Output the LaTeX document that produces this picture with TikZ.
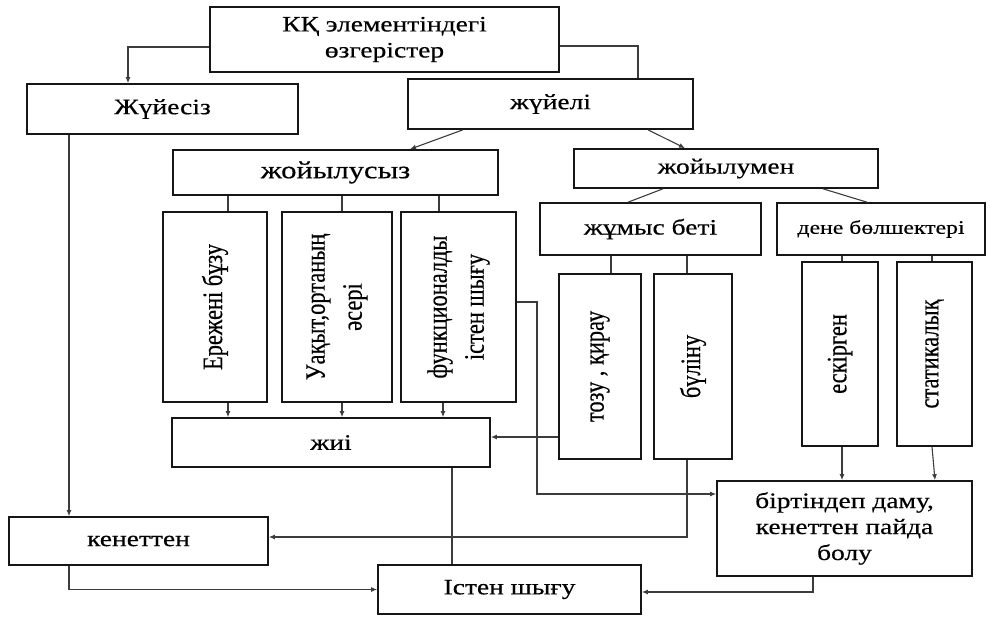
\documentclass[tikz,border=0pt]{standalone}
\usepackage{fontspec}
\setmainfont{Liberation Serif}[FakeStretch=1.25, FakeBold=0.4]
\newfontfamily\tikfont{Liberation Serif}[FakeStretch=0.8, FakeBold=0.4]
\usepackage{tikz}
\usetikzlibrary{arrows.meta, positioning, calc}
\definecolor{qara}{HTML}{161616}
\definecolor{syzyq}{HTML}{3C3C3C}
\tikzset{
  kutu/.style={rectangle, draw=qara, line width=1.6pt, fill=white,
    align=center, inner sep=0pt, font=\fontsize{22}{26}\selectfont},
  tik/.style={kutu, rotate=90, font=\tikfont\fontsize{28}{37}\selectfont},
  baylanys/.style={syzyq, line width=1.1pt},
  nuskar/.style={baylanys, -{Latex[length=6pt, width=5pt]}}
}

\begin{document}
\begin{tikzpicture}[x=1pt, y=-1pt]
  \useasboundingbox (0,0) rectangle (990,617);

  % --- Жоғарғы деңгей ---
  \node[kutu, minimum width=349pt, minimum height=65pt] (ozger) at (384.5,39.5)
    {КҚ элементіндегі\\өзгерістер};
  \node[kutu, minimum width=271pt, minimum height=50pt] (zhuiesiz) at (162.5,109) {Жүйесіз};
  \node[kutu, minimum width=285pt, minimum height=50pt] (zhuieli) at (550.5,104) {жүйелі};

  \node[kutu, minimum width=325pt, minimum height=45pt, font=\fontsize{24.5}{28}\selectfont]
    (zhoiylusyz) at (335.5,172.5) {жойылусыз};
  \node[kutu, minimum width=304pt, minimum height=39pt] (zhoiylumen) at (726,168.5) {жойылумен};
  \node[kutu, minimum width=221pt, minimum height=52pt] (zhumys) at (650.5,229) {жұмыс беті};
  \node[kutu, minimum width=208pt, minimum height=52pt, font=\fontsize{19}{23}\selectfont]
    (dene) at (881,229) {дене бөлшектері};

  % --- Тік қораптар ---
  \node[tik, minimum width=190pt, minimum height=104pt] (ereje) at (215,307) {Ережені бұзу};
  \node[tik, minimum width=190pt, minimum height=110pt] (uaqyt) at (337,307) {Уақыт,ортаның\\әсері};
  \node[tik, minimum width=190pt, minimum height=115pt] (funk) at (458.5,307) {функционалды\\істен шығу};
  \node[tik, minimum width=185pt, minimum height=82pt] (tozu) at (600,366.5) {тозу , қирау};
  \node[tik, minimum width=185pt, minimum height=78pt] (bulinu) at (693,366.5) {бүліну};
  \node[tik, minimum width=184pt, minimum height=76pt] (eskirgen) at (840,354) {ескірген};
  \node[tik, minimum width=184pt, minimum height=75pt] (statik) at (934.5,354) {статикалық};

  % --- Төменгі деңгей ---
  \node[kutu, minimum width=318pt, minimum height=49pt] (zhii) at (331,442.5) {жиі};
  \node[kutu, minimum width=255pt, minimum height=95pt] (birtindep) at (844.5,528.5)
    {біртіндеп даму,\\кенеттен пайда\\болу};
  \node[kutu, minimum width=259pt, minimum height=48pt] (kenetten) at (138.5,541) {кенеттен};
  \node[kutu, minimum width=263pt, minimum height=49pt] (isten) at (509.5,589.5) {Істен шығу};
  \coordinate (burysh) at (537,494);

  % --- Байланыстар ---
  \draw[nuskar] ([yshift=-7.5pt]ozger.west) -| ([xshift=-34.5pt]zhuiesiz.north);
  \draw[baylanys] ([yshift=-6.5pt]ozger.east) -| ([xshift=87.5pt]zhuieli.north);
  \draw[nuskar] ([xshift=-87.5pt]zhuieli.south) -- ([xshift=74.5pt]zhoiylusyz.north);
  \draw[nuskar] ([xshift=97.5pt]zhuieli.south) -- ([xshift=-41pt]zhoiylumen.north);
  \draw[baylanys] ([xshift=-63pt]zhoiylumen.south) -- ([xshift=-22.5pt]zhumys.north);
  \draw[baylanys] ([xshift=97pt]zhoiylumen.south) -- ([xshift=-14pt]dene.north);

  \foreach \b/\dx/\ex in {ereje/13/13, uaqyt/5/5, funk/-19.5/-15.5} {
    \draw[baylanys] ([xshift=\dx pt]\b.east) -- ([xshift=\dx pt]\b.east |- zhoiylusyz.south);
    \draw[nuskar] ([xshift=\ex pt]\b.west) -- ([xshift=\ex pt]\b.west |- zhii.north);
  }
  \foreach \b/\dx/\top in {tozu/11/zhumys, bulinu/-6/zhumys, eskirgen/2/dene, statik/-2.5/dene}
    \draw[baylanys] ([xshift=\dx pt]\b.east) -- ([xshift=\dx pt]\b.east |- \top.south);

  \draw[nuskar] ([xshift=2pt]eskirgen.west) -- ([xshift=2pt]eskirgen.west |- birtindep.north);
  \draw[nuskar] ([xshift=-2.5pt]statik.west) -- ([xshift=90.5pt]birtindep.north);
  \draw[nuskar] ([yshift=-70.5pt]tozu.north) -- ([yshift=5.5pt]zhii.east);
  \draw[nuskar] ([yshift=5pt]funk.south) -| (burysh) -- ([yshift=34.5pt]birtindep.west);
  \draw[nuskar] ([xshift=-6pt]bulinu.west) |- ([yshift=4pt]kenetten.east);
  \draw[nuskar] ([xshift=-93.5pt]zhuiesiz.south) -- ([xshift=-69.5pt]kenetten.north);
  \draw[nuskar] ([xshift=-69.5pt]kenetten.south) |- (isten.west);
  \draw[baylanys] ([xshift=121pt]zhii.south) -- ([xshift=-57.5pt]isten.north);
  \draw[nuskar] ([xshift=-31.5pt]birtindep.south) |- ([yshift=-2.5pt]isten.east);

\end{tikzpicture}
\end{document}
